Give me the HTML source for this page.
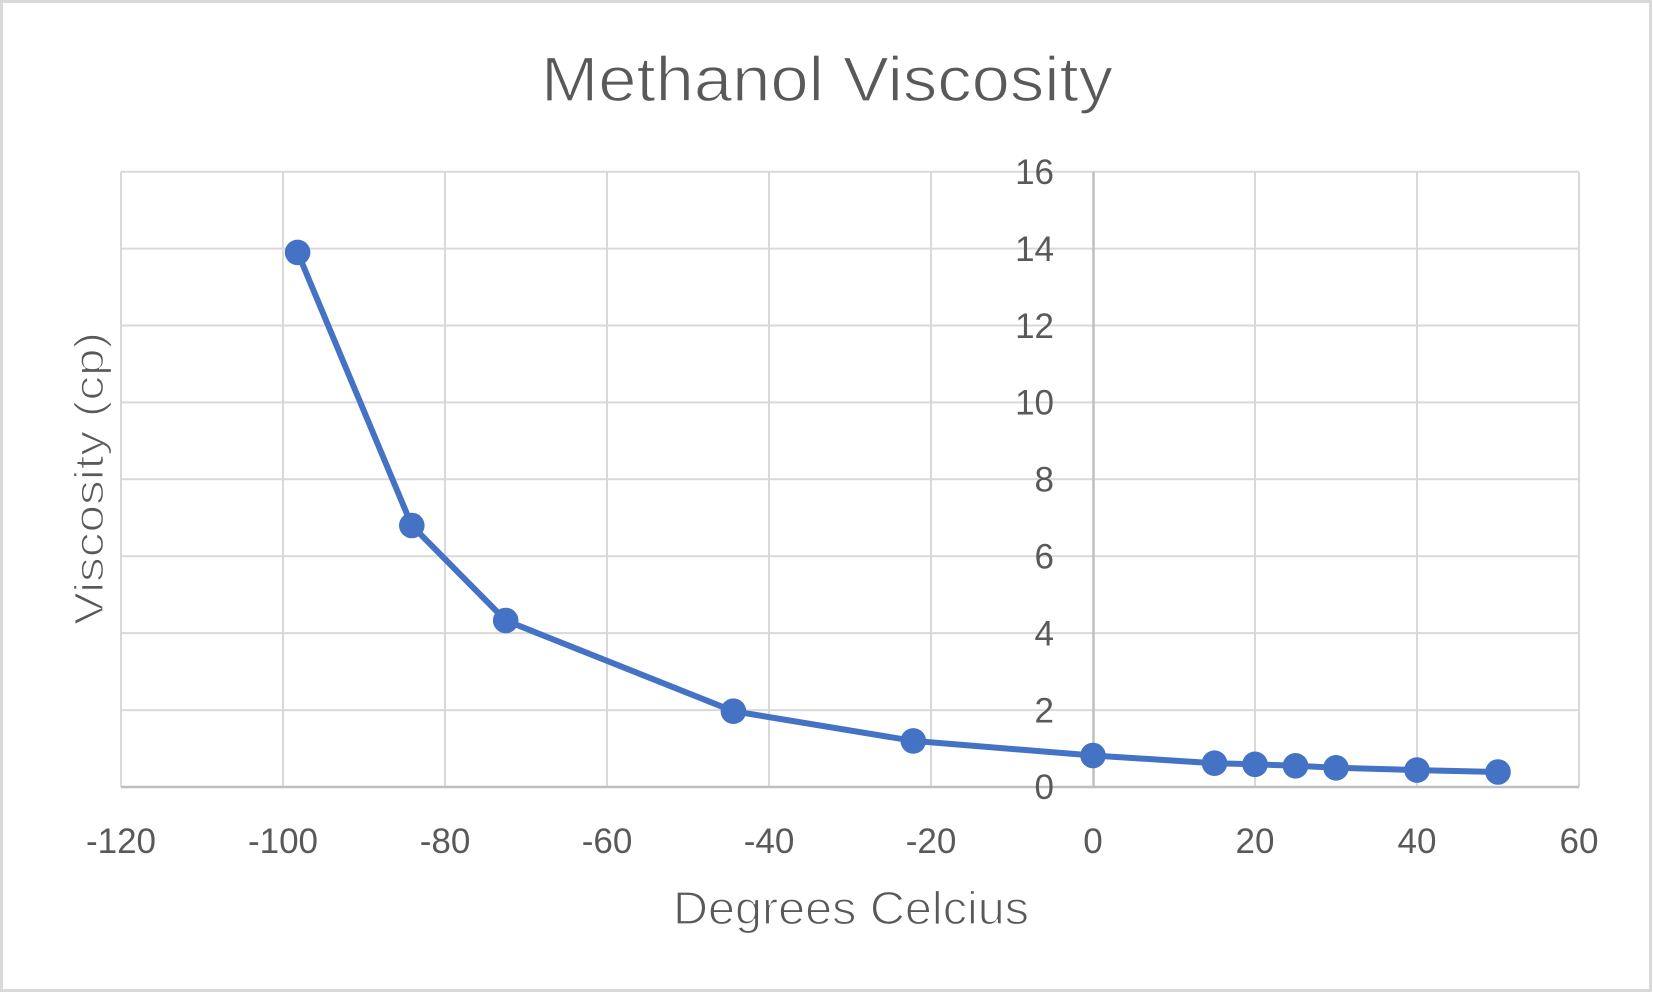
<!DOCTYPE html>
<html>
<head>
<meta charset="utf-8">
<style>
  html, body { margin:0; padding:0; background:#fff; }
  svg { display:block; }
  text { font-family: "Liberation Sans", "DejaVu Sans", sans-serif; fill:#595959; }
  .thin { stroke:#ffffff; stroke-width:1.3; paint-order:normal; }
</style>
</head>
<body>
<svg width="1653" height="993" viewBox="0 0 1653 993" xmlns="http://www.w3.org/2000/svg">
  <rect x="0" y="0" width="1653" height="993" fill="#ffffff"/>
  <rect x="1.5" y="1.5" width="1649" height="989" fill="none" stroke="#d9d9d9" stroke-width="3"/>

  <!-- Title -->
  <text class="thin" x="541" y="101" font-size="63" textLength="572" lengthAdjust="spacingAndGlyphs">Methanol Viscosity</text>

  <!-- Gridlines horizontal -->
  <g stroke="#d9d9d9" stroke-width="2">
    <line x1="121" y1="171.7" x2="1579" y2="171.7"/>
    <line x1="121" y1="248.6" x2="1579" y2="248.6"/>
    <line x1="121" y1="325.5" x2="1579" y2="325.5"/>
    <line x1="121" y1="402.4" x2="1579" y2="402.4"/>
    <line x1="121" y1="479.3" x2="1579" y2="479.3"/>
    <line x1="121" y1="556.2" x2="1579" y2="556.2"/>
    <line x1="121" y1="633.1" x2="1579" y2="633.1"/>
    <line x1="121" y1="710.1" x2="1579" y2="710.1"/>
    <!-- vertical -->
    <line x1="121" y1="171.7" x2="121" y2="787"/>
    <line x1="283" y1="171.7" x2="283" y2="787"/>
    <line x1="445" y1="171.7" x2="445" y2="787"/>
    <line x1="607" y1="171.7" x2="607" y2="787"/>
    <line x1="769" y1="171.7" x2="769" y2="787"/>
    <line x1="931" y1="171.7" x2="931" y2="787"/>
    <line x1="1255" y1="171.7" x2="1255" y2="787"/>
    <line x1="1417" y1="171.7" x2="1417" y2="787"/>
    <line x1="1579" y1="171.7" x2="1579" y2="787"/>
  </g>
  <!-- Axes -->
  <g stroke="#bfbfbf" stroke-width="2.5">
    <line x1="121" y1="787" x2="1579" y2="787"/>
    <line x1="1093.5" y1="171.7" x2="1093.5" y2="787"/>
  </g>

  <!-- Y tick labels -->
  <g font-size="35" text-anchor="end">
    <text x="1054" y="184">16</text>
    <text x="1054" y="260.9">14</text>
    <text x="1054" y="337.8">12</text>
    <text x="1054" y="414.7">10</text>
    <text x="1054" y="491.6">8</text>
    <text x="1054" y="568.5">6</text>
    <text x="1054" y="645.4">4</text>
    <text x="1054" y="722.3">2</text>
    <text x="1054" y="799.2">0</text>
  </g>

  <!-- X tick labels -->
  <g font-size="35" text-anchor="middle">
    <text x="121" y="853">-120</text>
    <text x="283" y="853">-100</text>
    <text x="445" y="853">-80</text>
    <text x="607" y="853">-60</text>
    <text x="769" y="853">-40</text>
    <text x="931" y="853">-20</text>
    <text x="1093" y="853">0</text>
    <text x="1255" y="853">20</text>
    <text x="1417" y="853">40</text>
    <text x="1579" y="853">60</text>
  </g>

  <!-- Axis titles -->
  <text class="thin" x="673" y="924" font-size="46" textLength="356" lengthAdjust="spacingAndGlyphs">Degrees Celcius</text>
  <text class="thin" transform="translate(103,625) rotate(-90)" x="0" y="0" font-size="41" textLength="293" lengthAdjust="spacingAndGlyphs">Viscosity (cp)</text>

  <!-- Series -->
  <polyline fill="none" stroke="#4472c4" stroke-width="6" stroke-linejoin="round" stroke-linecap="round"
    points="297.6,252.4 411.8,525.5 505.7,620.5 733.4,711.2 913.3,740.9 1093,755.5 1214.5,763.2 1255,764.3 1295.5,765.8 1336,767.8 1417,770.1 1498,772.0"/>
  <g fill="#4472c4">
    <circle cx="297.6" cy="252.4" r="12.8"/>
    <circle cx="411.8" cy="525.5" r="12.8"/>
    <circle cx="505.7" cy="620.5" r="12.8"/>
    <circle cx="733.4" cy="711.2" r="12.8"/>
    <circle cx="913.3" cy="740.9" r="12.8"/>
    <circle cx="1093" cy="755.5" r="12.8"/>
    <circle cx="1214.5" cy="763.2" r="12.8"/>
    <circle cx="1255" cy="764.3" r="12.8"/>
    <circle cx="1295.5" cy="765.8" r="12.8"/>
    <circle cx="1336" cy="767.8" r="12.8"/>
    <circle cx="1417" cy="770.1" r="12.8"/>
    <circle cx="1498" cy="772.0" r="12.8"/>
  </g>
</svg>
</body>
</html>
